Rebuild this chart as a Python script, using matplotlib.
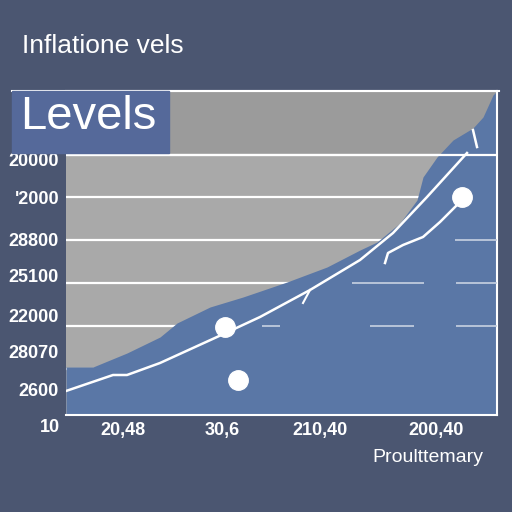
import matplotlib.pyplot as plt
from matplotlib.patches import Rectangle
from matplotlib.lines import Line2D

# data (x: 0..431, y: 0..324)
area_x = [0, 27, 61, 94, 111, 144, 177, 221, 261, 294, 311, 334, 351, 357, 371, 387, 407, 417, 427, 431]
area_y = [48, 48, 62, 78, 92, 108, 118, 133, 148, 165, 173, 192, 215, 238, 258, 275, 287, 298, 320, 324]

line_x = [0, 47, 61, 94, 151, 194, 244, 294, 327, 361, 401]
line_y = [24, 40, 40, 52, 78, 98, 125, 155, 182, 218, 262]

line2_x = [319, 322, 337, 357, 374, 391, 396]
line2_y = [152, 162, 170, 178, 193, 210, 215]

hook_x = [407, 411]
hook_y = [285, 268]
tick_x = [237, 244]
tick_y = [112, 125]

dots_x = [159, 172, 396]
dots_y = [88, 35, 218]

grid_y = [260, 218, 175, 132, 89, 46]
ytick_pos = [255, 218, 175, 139, 100, 63, 25]
ytick_labels = ["20000", "'2000", "28800", "25100", "22000", "28070", "2600"]
xtick_pos = [57, 156, 254, 370]
xtick_labels = ["20,48", "30,6", "210,40", "200,40"]

bg = '#4b5671'
blue = '#5a77a6'
gray = '#a9a9a9'

plt.rcParams['font.family'] = ['Liberation Sans', 'DejaVu Sans']

fig = plt.figure(figsize=(5.12, 5.12), dpi=100)
fig.patch.set_facecolor(bg)
ax = fig.add_axes([66/512, 97/512, 431/512, 324/512])
ax.set_facecolor(gray)
ax.set_xlim(0, 431)
ax.set_ylim(0, 324)

ax.axhspan(260, 324, color='#9b9b9b', zorder=0)
for gy in grid_y:
	ax.axhline(gy, color='white', lw=1.6, zorder=1)

ax.fill_between(area_x, 0, area_y, color=blue, zorder=2, lw=0)

# grid pieces showing on top of the blue
ax.axhline(260, color='white', lw=1.6, zorder=3)
ax.hlines([175, 132, 132, 89, 89, 89], [389, 286, 390, 196, 304, 390], [431, 358, 431, 214, 348, 431],
	color='#c8d2e2', lw=1.2, zorder=3)

ax.plot(line_x, line_y, color='white', lw=1.8, zorder=4)
ax.plot(line2_x, line2_y, color='white', lw=1.8, zorder=4)
ax.plot(hook_x, hook_y, color='white', lw=1.8, zorder=4)
ax.plot(tick_x, tick_y, color='white', lw=1.5, zorder=4)
ax.plot(dots_x, dots_y, 'o', color='white', ms=14, zorder=5)

ax.spines['left'].set_visible(False)
for s in ['top', 'right', 'bottom']:
	ax.spines[s].set_color('white')
	ax.spines[s].set_linewidth(1.5)

ax.set_yticks(ytick_pos)
ax.set_yticklabels(ytick_labels)
ax.set_xticks(xtick_pos)
ax.set_xticklabels(xtick_labels)
ax.tick_params(length=0, colors='white', labelsize=13, pad=5)
for lab in ax.get_xticklabels() + ax.get_yticklabels():
	lab.set_fontweight('bold')
ax.text(-6, -13, "10", color='white', fontsize=13, fontweight='bold', ha='right', va='center', clip_on=False)

# top frame line reaching out to the Levels box
fig.add_artist(Line2D([12/512, 499/512], [421/512, 421/512], color='white', lw=1.5))
fig.add_artist(Rectangle((12/512, 359/512), 157/512, 62/512, color='#55699a', zorder=10))
fig.text(20/512, 1 - 117/512, "Levels", color='white', fontsize=34, ha='left', va='center', zorder=11)

fig.text(22/512, 1 - 46/512, "Inflatione vels", color='white', fontsize=19, ha='left', va='center')
fig.text(428/512, 1 - 458/512, "Proulttemary", color='white', fontsize=14, ha='center', va='center')

plt.savefig('out.png', dpi=100, facecolor=fig.get_facecolor())
